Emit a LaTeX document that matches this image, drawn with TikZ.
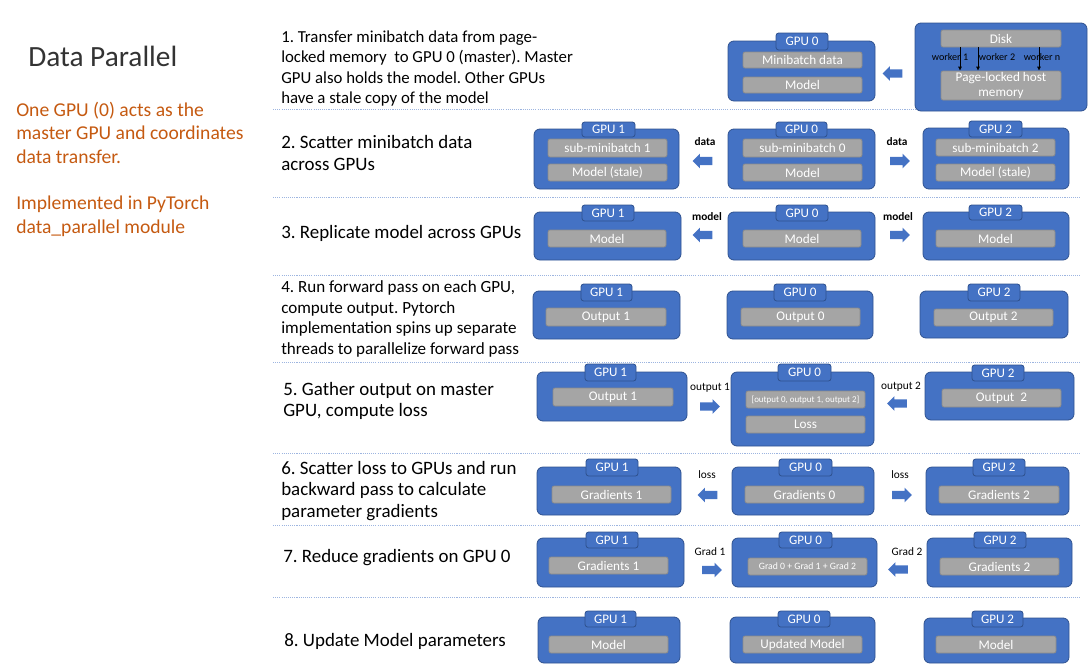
\documentclass[tikz,border=0pt]{standalone}
\usepackage{fontspec}
\setmainfont{Carlito}
\usetikzlibrary{shapes.arrows,arrows.meta}
\definecolor{gpublue}{HTML}{4472C4}
\definecolor{gpuedge}{HTML}{2F528F}
\definecolor{cellgray}{HTML}{A5A5A5}
\definecolor{celledge}{HTML}{8A8A8A}
\definecolor{orangetxt}{HTML}{C55A11}
\definecolor{sepblue}{HTML}{9DB5E0}
\definecolor{titlegray}{HTML}{333333}
\newcommand{\bx}[7]{\node[#1, minimum width={(#5-#3)*0.75pt}, minimum height={(#6-#4)*0.75pt}] (#2) at ({(#3+#5)/2},{(#4+#6)/2}) {#7};}
\frenchspacing
\begin{document}
\begin{tikzpicture}[x=0.75pt,y=-0.75pt,
 gpu/.style={draw=gpuedge, fill=gpublue, line width=0.6pt, rounded corners=4.5pt, inner sep=0pt},
 tab/.style={draw=gpuedge, fill=gpublue, line width=0.6pt, rounded corners=2pt, inner sep=0pt, text=white, font=\fontsize{9.8}{11}\selectfont},
 cell/.style={draw=celledge, fill=cellgray, line width=0.5pt, rounded corners=1.5pt, inner sep=0pt, text=white, font=\fontsize{9.9}{11}\selectfont},
 tinycell/.style={cell, font=\fontsize{6.7}{8}\selectfont},
 gradcell/.style={cell, font=\fontsize{7.3}{8.5}\selectfont},
 steptext/.style={anchor=west, inner sep=0pt, align=left, font=\fontsize{14.2}{16.1}\selectfont},
 lbl/.style={inner sep=0pt, font=\fontsize{8.5}{10}\selectfont},
 boldlbl/.style={lbl, font=\fontsize{8.5}{10}\selectfont\bfseries},
 wlbl/.style={inner sep=0pt, font=\fontsize{7.6}{8}\selectfont},
 barrow/.style={single arrow, fill=gpublue, draw=none, inner xsep=0pt, inner ysep=2.9pt, minimum height=14.8pt, single arrow head extend=2.4pt, single arrow tip angle=90},
 leftarrow/.style={barrow, shape border rotate=180},
 rightarrow/.style={barrow},
 sep/.style={draw=sepblue, line width=0.6pt, dash pattern=on 0.8pt off 0.8pt},
 warrow/.style={draw=black, line width=0.5pt, -{Latex[length=3pt,width=3pt]}}
]
\useasboundingbox (0,0) rectangle (1092,671);

% left column
\node[anchor=west, inner sep=0pt, text=titlegray, font=\fontsize{22}{26}\selectfont] (title) at (28,56) {Data Parallel};
\node[anchor=west, inner sep=0pt, align=left, text=orangetxt, font=\fontsize{14.7}{17.6}\selectfont] (desc1) at (16,132.5) {One GPU (0) acts as the\\master GPU and coordinates\\data transfer.};
\node[anchor=west, inner sep=0pt, align=left, text=orangetxt, font=\fontsize{14.7}{17.6}\selectfont] (desc2) at (16,216.5) {Implemented in PyTorch\\data\_parallel module};

% separators
\foreach \yy/\nm in {109/s1,197/s2,275/s3,362/s4,453/s5,525/s6,597/s7} {
  \coordinate (\nm l) at (273,\yy); \coordinate (\nm r) at (1080,\yy);
  \draw[sep] (\nm l) -- (\nm r);
}

% step texts
\node[steptext, font=\fontsize{12.6}{15.4}\selectfont] (t1) at (281,68.5) {1. Transfer minibatch data from page-\\locked memory\ \ to GPU 0 (master). Master\\GPU also holds the model. Other GPUs\\have a stale copy of the model};
\node[steptext] (t2) at (281,153) {2. Scatter minibatch data\\across GPUs};
\node[steptext] (t3) at (281,233) {3. Replicate model across GPUs};
\node[steptext, font=\fontsize{12.8}{15.5}\selectfont] (t4) at (281,319) {4. Run forward pass on each GPU,\\compute output. Pytorch\\implementation spins up separate\\threads to parallelize forward pass};
\node[steptext] (t5) at (283,401) {5. Gather output on master\\GPU, compute loss};
\node[steptext] (t6) at (281,491) {6. Scatter loss to GPUs and run\\backward pass to calculate\\parameter gradients};
\node[steptext] (t7) at (283,558) {7. Reduce gradients on GPU 0};
\node[steptext] (t8) at (284,641) {8. Update Model parameters};

% ---------- Row 1
\bx{gpu}{r1g0}{728}{41}{875}{101}{}
\bx{tab}{r1g0t}{776}{33}{828}{50}{GPU 0}
\bx{cell}{r1g0a}{743}{52}{862}{68}{Minibatch data}
\bx{cell}{r1g0b}{743}{77}{862}{93}{Model}
\bx{gpu}{disk}{915}{23}{1087}{111}{}
\bx{cell}{diskc}{941}{30}{1061}{47}{Disk}
\bx{cell, align=center, font=\fontsize{9.9}{11.5}\selectfont}{plh}{941}{71}{1061}{100}{Page-locked host\\memory}
\coordinate (w1) at (960,0); \coordinate (w2) at (978,0); \coordinate (wn) at (1039,0);
\draw[warrow] (diskc.south -| w1) -- (plh.north -| w1);
\draw[warrow] (diskc.south -| w2) -- (plh.north -| w2);
\draw[warrow] (diskc.south -| wn) -- (plh.north -| wn);
\node[wlbl] (wl1) at (950,57) {worker 1};
\node[wlbl] (wl2) at (997,57) {worker 2};
\node[wlbl] (wln) at (1042,57) {worker n};
\node[leftarrow] (a1) at (894.5,73.5) {};

% ---------- Row 2
\bx{gpu}{r2g1}{534}{129}{679}{189}{}
\bx{tab}{r2g1t}{582}{122}{635}{137}{GPU 1}
\bx{cell}{r2g1a}{548}{139}{667}{157}{sub-minibatch 1}
\bx{cell}{r2g1b}{548}{164}{667}{181}{Model (stale)}
\bx{gpu}{r2g0}{728}{129}{875}{189}{}
\bx{tab}{r2g0t}{776}{122}{827}{137}{GPU 0}
\bx{cell}{r2g0a}{743}{139}{862}{157}{sub-minibatch 0}
\bx{cell}{r2g0b}{743}{164}{862}{181}{Model}
\bx{gpu}{r2g2}{923}{128}{1069}{189}{}
\bx{tab}{r2g2t}{969}{121}{1022}{137}{GPU 2}
\bx{cell}{r2g2a}{936}{139}{1055}{156}{sub-minibatch 2}
\bx{cell}{r2g2b}{936}{164}{1055}{181}{Model (stale)}
\node[boldlbl] (l2l) at (705,142) {data};
\node[boldlbl] (l2r) at (897,142) {data};
\node[leftarrow] (a2l) at (704.5,161) {};
\node[rightarrow] (a2r) at (898,161) {};

% ---------- Row 3
\bx{gpu}{r3g1}{534}{212}{681}{260}{}
\bx{tab}{r3g1t}{582}{205}{634}{221}{GPU 1}
\bx{cell}{r3g1a}{548}{230}{666}{247}{Model}
\bx{gpu}{r3g0}{728}{212}{875}{260}{}
\bx{tab}{r3g0t}{776}{205}{828}{221}{GPU 0}
\bx{cell}{r3g0a}{743}{230}{861}{247}{Model}
\bx{gpu}{r3g2}{923}{212}{1069}{260}{}
\bx{tab}{r3g2t}{969}{205}{1022}{220}{GPU 2}
\bx{cell}{r3g2a}{936}{230}{1055}{247}{Model}
\node[boldlbl] (l3l) at (707,217) {model};
\node[boldlbl] (l3r) at (898,217) {model};
\node[leftarrow] (a3l) at (704.5,235) {};
\node[rightarrow] (a3r) at (898,235) {};

% ---------- Row 4
\bx{gpu}{r4g1}{533}{291}{680}{339}{}
\bx{tab}{r4g1t}{581}{284}{632}{301}{GPU 1}
\bx{cell}{r4g1a}{546}{308}{666}{326}{Output 1}
\bx{gpu}{r4g0}{727}{291}{873}{339}{}
\bx{tab}{r4g0t}{774}{284}{826}{301}{GPU 0}
\bx{cell}{r4g0a}{741}{308}{860}{326}{Output 0}
\bx{gpu}{r4g2}{920}{291}{1068}{338}{}
\bx{tab}{r4g2t}{968}{284}{1020}{301}{GPU 2}
\bx{cell}{r4g2a}{934}{309}{1053}{326}{Output 2}

% ---------- Row 5
\bx{gpu}{r5g1}{537}{372}{687}{421}{}
\bx{tab}{r5g1t}{585}{364}{636}{381}{GPU 1}
\bx{cell}{r5g1a}{553}{388}{673}{406}{Output 1}
\bx{gpu}{r5g0}{731}{372}{874}{446}{}
\bx{tab}{r5g0t}{778}{364}{831}{381}{GPU 0}
\bx{tinycell}{r5g0a}{746}{391}{865}{408}{[output 0, output 1, output 2]}
\bx{cell}{r5g0b}{746}{416}{865}{433}{Loss}
\bx{gpu}{r5g2}{925}{372}{1074}{420}{}
\bx{tab}{r5g2t}{972}{365}{1024}{381}{GPU 2}
\bx{cell}{r5g2a}{942}{389}{1061}{407}{Output\ \ 2}
\node[lbl] (l5l) at (710,388) {output 1};
\node[lbl] (l5r) at (901,387) {output 2};
\node[rightarrow] (a5l) at (708,406.5) {};
\node[leftarrow] (a5r) at (899,403.5) {};

% ---------- Row 6
\bx{gpu}{r6g1}{537}{467}{681}{515}{}
\bx{tab}{r6g1t}{586}{459}{638}{476}{GPU 1}
\bx{cell}{r6g1a}{552}{486}{671}{503}{Gradients 1}
\bx{gpu}{r6g0}{732}{467}{874}{515}{}
\bx{tab}{r6g0t}{779}{459}{832}{476}{GPU 0}
\bx{cell}{r6g0a}{745}{486}{864}{503}{Gradients 0}
\bx{gpu}{r6g2}{926}{467}{1069}{515}{}
\bx{tab}{r6g2t}{973}{459}{1025}{476}{GPU 2}
\bx{cell}{r6g2a}{939}{486}{1059}{503}{Gradients 2}
\node[lbl] (l6l) at (707,475) {loss};
\node[lbl] (l6r) at (900,475) {loss};
\node[leftarrow] (a6l) at (709.5,495) {};
\node[rightarrow] (a6r) at (900,495) {};

% ---------- Row 7
\bx{gpu}{r7g1}{537}{538}{684}{587}{}
\bx{tab}{r7g1t}{586}{532}{638}{548}{GPU 1}
\bx{cell}{r7g1a}{549}{557}{668}{574}{Gradients 1}
\bx{gpu}{r7g0}{732}{538}{877}{587}{}
\bx{tab}{r7g0t}{779}{532}{832}{548}{GPU 0}
\bx{gradcell}{r7g0a}{748}{558}{867}{575}{Grad 0 + Grad 1 + Grad 2}
\bx{gpu}{r7g2}{927}{538}{1072}{587}{}
\bx{tab}{r7g2t}{974}{532}{1026}{548}{GPU 2}
\bx{cell}{r7g2a}{940}{558}{1059}{575}{Gradients 2}
\node[lbl] (l7l) at (710,552) {Grad 1};
\node[lbl] (l7r) at (907,552) {Grad 2};
\node[rightarrow] (a7l) at (710,570) {};
\node[leftarrow] (a7r) at (900,569.5) {};

% ---------- Row 8
\bx{gpu}{r8g1}{538}{617}{680}{663}{}
\bx{tab}{r8g1t}{585}{611}{636}{627}{GPU 1}
\bx{cell}{r8g1a}{549}{636}{668}{653}{Model}
\bx{gpu}{r8g0}{730}{617}{875}{663}{}
\bx{tab}{r8g0t}{778}{611}{830}{627}{GPU 0}
\bx{cell}{r8g0a}{743}{636}{862}{653}{Updated Model}
\bx{gpu}{r8g2}{924}{618}{1069}{663}{}
\bx{tab}{r8g2t}{972}{611}{1023}{627}{GPU 2}
\bx{cell}{r8g2a}{936}{636}{1056}{653}{Model}
\end{tikzpicture}
\end{document}
